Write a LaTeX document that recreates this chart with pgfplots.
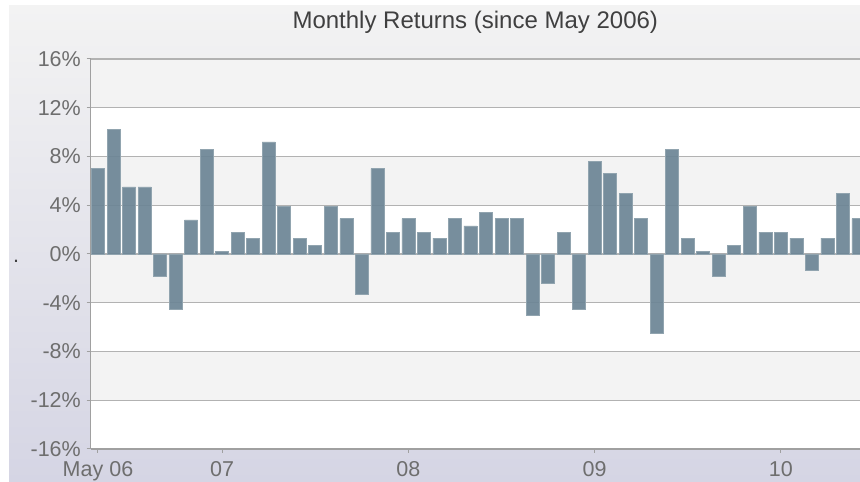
\documentclass[border=0pt]{standalone}
\usepackage{fontspec}
\setmainfont{Liberation Sans}
\usepackage{pgfplots}
\pgfplotsset{compat=1.18}
\definecolor{barcol}{HTML}{6C8595}
\definecolor{bgtop}{HTML}{F3F3F3}
\definecolor{bgmid}{HTML}{EBEBF0}
\definecolor{bgbot}{HTML}{D5D5E4}
\definecolor{bandgray}{HTML}{F3F3F3}
\definecolor{gridgray}{HTML}{B2B2B2}
\definecolor{axisgray}{HTML}{A0A0A0}
\definecolor{labelgray}{HTML}{6E6E6E}
\definecolor{titlegray}{HTML}{404040}
\begin{document}
\begin{tikzpicture}[x=1pt,y=1pt]
\pgfplotsset{set layers}
\begin{pgfonlayer}{axis background}
\fill[white] (0,0) rectangle (860,482);
\shade[top color=bgtop, middle color=bgmid, bottom color=bgbot] (9,0) rectangle (860,476);
\end{pgfonlayer}
\begin{axis}[
  set layers,
  at={(90.5pt,33pt)}, anchor=south west,
  scale only axis, width=769.5pt, height=390pt,
  xmin=-0.483, xmax=49.1, ymin=-16, ymax=16,
  axis x line*=bottom, axis y line*=left,
  axis line style={draw=axisgray, line width=1.5pt, -},
  x axis line style={-}, y axis line style={-},
  ytick={-16,-12,-8,-4,0,4,8,12,16},
  yticklabels={-16\%,-12\%,-8\%,-4\%,0\%,4\%,8\%,12\%,16\%},
  xtick={0,8,20,32,44},
  xticklabels={May 06,07,08,09,10},
  tick align=outside, major tick length=4pt,
  tick style={draw=axisgray, line width=1pt},
  ymajorgrids, major grid style={draw=gridgray, line width=1.3pt},
  ticklabel style={font=\fontsize{21.5}{24}\selectfont, text=labelgray, inner sep=0pt},
  yticklabel style={anchor=east, xshift=-5.5pt},
  xticklabel style={anchor=base, yshift=-23.7pt},
  title={Monthly Returns (since May 2006)},
  title style={at={(axis description cs:0.5,1)}, anchor=base, yshift=24.3pt,
    font=\fontsize{24}{28}\selectfont, text=titlegray, inner sep=0pt},
  ylabel={.},
  every axis y label/.style={at={(axis description cs:0,0.5)}, anchor=base,
    xshift=-74.5pt, yshift=-9pt, font=\fontsize{21.5}{24}\selectfont, text=titlegray},
  ybar, bar width=13pt,
]
\begin{pgfonlayer}{axis background}
\fill[white] (axis cs:-0.483,-16) rectangle (axis cs:49.1,16);
\fill[bandgray] (axis cs:-0.483,16) rectangle (axis cs:49.1,12);
\fill[bandgray] (axis cs:-0.483,8) rectangle (axis cs:49.1,4);
\fill[bandgray] (axis cs:-0.483,0) rectangle (axis cs:49.1,-4);
\fill[bandgray] (axis cs:-0.483,-8) rectangle (axis cs:49.1,-12);
\end{pgfonlayer}
\addplot[fill=barcol, fill opacity=0.92, draw=barcol!75!white, line width=0.6pt] coordinates {
(0,7.0) (1,10.2) (2,5.5) (3,5.5) (4,-1.8) (5,-4.5) (6,2.8) (7,8.6) (8,0.2) (9,1.8)
(10,1.3) (11,9.2) (12,3.9) (13,1.3) (14,0.7) (15,3.9) (16,2.9) (17,-3.3) (18,7.0) (19,1.8)
(20,2.9) (21,1.8) (22,1.3) (23,2.9) (24,2.3) (25,3.4) (26,2.9) (27,2.9) (28,-5.0) (29,-2.4)
(30,1.8) (31,-4.5) (32,7.6) (33,6.6) (34,5.0) (35,2.9) (36,-6.5) (37,8.6) (38,1.3) (39,0.2)
(40,-1.8) (41,0.7) (42,3.9) (43,1.8) (44,1.8) (45,1.3) (46,-1.3) (47,1.3) (48,5.0) (49,2.9)
};
\end{axis}
\pgfresetboundingbox
\useasboundingbox (0,0) rectangle (860,482);
\end{tikzpicture}
\end{document}
